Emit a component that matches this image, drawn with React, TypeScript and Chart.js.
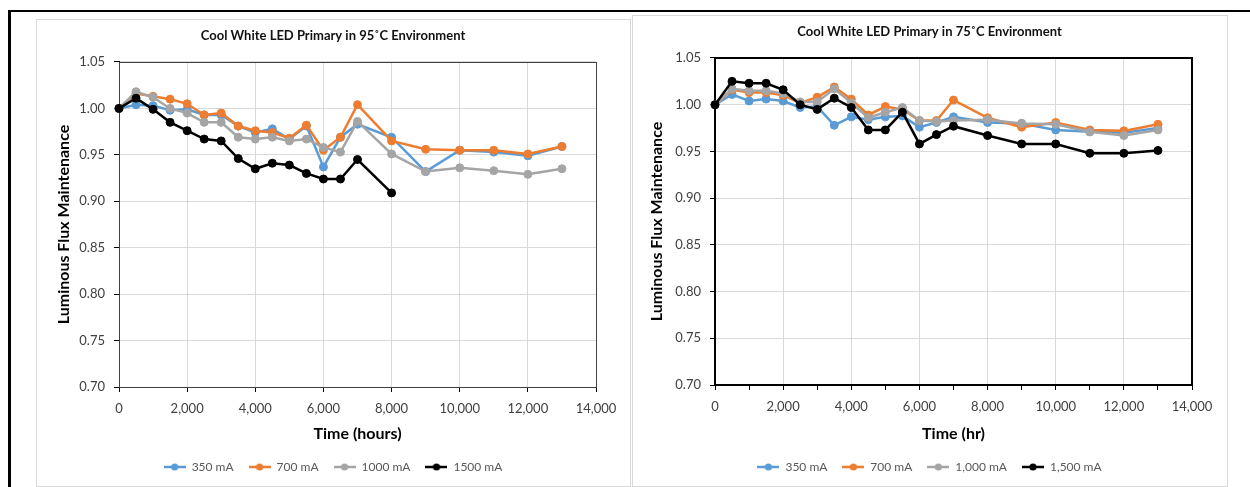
import { useEffect, useRef } from "react";
import { Chart, registerables } from "chart.js";

Chart.register(...registerables);

const FONT = "Lato, 'Liberation Sans', sans-serif";

// Test hours (shared sampling schedule)
const hours = [0, 500, 1000, 1500, 2000, 2500, 3000, 3500, 4000, 4500, 5000, 5500, 6000, 6500, 7000, 8000, 9000, 10000, 11000, 12000, 13000];
const hours1500At95 = [0, 500, 1000, 1500, 2000, 2500, 3000, 3500, 4000, 4500, 5000, 5500, 6000, 6500, 7000, 8000];

// 95 °C environment – luminous flux maintenance
const ma350At95 = [1.0, 1.004, 1.003, 0.998, 0.999, 0.993, 0.993, 0.981, 0.974, 0.978, 0.967, 0.981, 0.937, 0.969, 0.983, 0.969, 0.932, 0.955, 0.953, 0.949, 0.959];
const ma700At95 = [1.0, 1.016, 1.013, 1.01, 1.005, 0.993, 0.995, 0.981, 0.976, 0.974, 0.968, 0.982, 0.955, 0.969, 1.004, 0.965, 0.956, 0.955, 0.955, 0.951, 0.959];
const ma1000At95 = [1.0, 1.018, 1.012, 1.0, 0.995, 0.985, 0.985, 0.969, 0.967, 0.969, 0.965, 0.967, 0.958, 0.953, 0.986, 0.951, 0.932, 0.936, 0.933, 0.929, 0.935];
const ma1500At95 = [1.0, 1.011, 0.999, 0.985, 0.976, 0.967, 0.965, 0.946, 0.935, 0.941, 0.939, 0.93, 0.924, 0.924, 0.945, 0.909];

// 75 °C environment – luminous flux maintenance
const ma350At75 = [1.0, 1.011, 1.004, 1.006, 1.004, 0.997, 0.998, 0.978, 0.987, 0.984, 0.987, 0.988, 0.976, 0.981, 0.987, 0.981, 0.98, 0.973, 0.971, 0.97, 0.975];
const ma700At75 = [1.0, 1.016, 1.013, 1.013, 1.01, 1.002, 1.008, 1.019, 1.006, 0.989, 0.998, 0.995, 0.983, 0.983, 1.005, 0.986, 0.976, 0.981, 0.973, 0.972, 0.979];
const ma1000At75 = [1.0, 1.017, 1.015, 1.015, 1.012, 1.003, 1.003, 1.017, 1.002, 0.986, 0.992, 0.997, 0.983, 0.982, 0.983, 0.984, 0.98, 0.979, 0.971, 0.967, 0.973];
const ma1500At75 = [1.0, 1.025, 1.023, 1.023, 1.016, 1.0, 0.995, 1.007, 0.997, 0.973, 0.973, 0.992, 0.958, 0.968, 0.977, 0.967, 0.958, 0.958, 0.948, 0.948, 0.951];

const labels95 = ["350 mA", "700 mA", "1000 mA", "1500 mA"];
const labels75 = ["350 mA", "700 mA", "1,000 mA", "1,500 mA"];

const yTicks = { min: 0.7, max: 1.05, step: 0.05 };
const xTicks = { min: 0, max: 14000, labelStep: 2000 };

const COLORS = ["#5B9BD5", "#ED7D31", "#A5A5A5", "#000000"];

const zip = (xs: number[], ys: number[]) => ys.map((y, i) => ({ x: xs[i], y }));

// line-with-dot swatch used as the legend marker
const markerCache: Record<string, HTMLCanvasElement> = {};
function legendMarker(color: string) {
  if (markerCache[color]) return markerCache[color];
  const c = document.createElement("canvas");
  c.width = 22;
  c.height = 10;
  const g = c.getContext("2d")!;
  g.strokeStyle = color;
  g.lineWidth = 2.5;
  g.beginPath();
  g.moveTo(0, 5);
  g.lineTo(22, 5);
  g.stroke();
  g.fillStyle = color;
  g.beginPath();
  g.arc(11, 5, 3.6, 0, Math.PI * 2);
  g.fill();
  markerCache[color] = c;
  return c;
}

const plotFrame = {
  id: "plotFrame",
  beforeDatasetsDraw(chart: any, _args: any, opts: any) {
    const { ctx, chartArea: a } = chart;
    const off = opts.width % 2 === 1 ? 0.5 : 0;
    ctx.save();
    ctx.strokeStyle = opts.color;
    ctx.lineWidth = opts.width;
    ctx.strokeRect(Math.round(a.left) + off, Math.round(a.top) + off, Math.round(a.right - a.left), Math.round(a.bottom - a.top));
    ctx.restore();
  },
};

interface PanelSpec {
  title: string;
  xTitle: string;
  names: string[];
  series: { x: number[]; y: number[] }[];
  width: number;
  height: number;
  plotBottom: number;
  xMinorStep: number;
  frameColor: string;
  frameWidth: number;
  yTitlePad: number;
}

function buildConfig(p: PanelSpec): any {
  const plotTop = 43;
  const plotLeft = 83;
  const plotRight = 560;
  const padBottom = 4;
  const legendFont = 12;
  const legendPad = 15;
  const legendH = legendFont + legendPad + 10;
  const xAxisH = p.height - padBottom - legendH - p.plotBottom;
  const titleSize = 13;
  const titleLine = titleSize * 1.2;

  const datasets = p.series.map((s, i) => ({
    label: p.names[i],
    data: zip(s.x, s.y),
    borderColor: COLORS[i],
    backgroundColor: COLORS[i],
    pointBackgroundColor: COLORS[i],
    pointBorderColor: COLORS[i],
    pointRadius: 4,
    pointBorderWidth: 1,
    borderWidth: 2.5,
    tension: 0,
    clip: false,
    order: p.series.length - 1 - i,
  }));

  return {
    type: "line",
    data: { datasets },
    plugins: [plotFrame],
    options: {
      responsive: false,
      animation: false,
      events: [],
      layout: { padding: { top: 0, left: 0, right: 0, bottom: padBottom } },
      plugins: {
        tooltip: { enabled: false },
        plotFrame: { color: p.frameColor, width: p.frameWidth },
        title: {
          display: true,
          text: p.title,
          color: "#111",
          font: { family: FONT, size: titleSize, weight: "bold", lineHeight: 1.2 },
          padding: { top: 17 - titleLine / 2, bottom: plotTop - (17 - titleLine / 2) - titleLine },
        },
        legend: {
          position: "bottom",
          labels: {
            usePointStyle: true,
            pointStyleWidth: 22,
            padding: legendPad,
            color: "#595959",
            font: { family: FONT, size: legendFont },
            generateLabels: (chart: any) =>
              chart.data.datasets.map((ds: any, i: number) => ({
                text: ds.label,
                fillStyle: ds.borderColor,
                strokeStyle: ds.borderColor,
                lineWidth: 0,
                pointStyle: legendMarker(ds.borderColor),
                hidden: false,
                datasetIndex: i,
                fontColor: "#595959",
              })),
          },
        },
      },
      scales: {
        x: {
          type: "linear",
          min: xTicks.min,
          max: xTicks.max,
          afterFit: (s: any) => {
            s.height = xAxisH;
          },
          ticks: {
            stepSize: p.xMinorStep,
            autoSkip: false,
            maxRotation: 0,
            padding: 9,
            color: "#404040",
            font: { family: FONT, size: 13 },
            callback: (v: number) => (v % xTicks.labelStep === 0 ? v.toLocaleString("en-US") : ""),
          },
          grid: {
            color: (c: any) => (c.tick && c.tick.value % xTicks.labelStep === 0 ? "#d9d9d9" : "rgba(0,0,0,0)"),
            tickColor: "#000",
            tickLength: 5,
            lineWidth: 1,
          },
          border: { color: "#000", width: p.frameWidth },
          title: {
            display: true,
            text: p.xTitle,
            color: "#000",
            font: { family: FONT, size: 16, weight: "bold", lineHeight: 1.2 },
            padding: { top: 0, bottom: 3 },
          },
        },
        y: {
          min: yTicks.min,
          max: yTicks.max,
          afterFit: (s: any) => {
            s.width = plotLeft;
          },
          ticks: {
            stepSize: yTicks.step,
            padding: 9,
            color: "#404040",
            font: { family: FONT, size: 13 },
            callback: (v: number) => Number(v).toFixed(2),
          },
          grid: { color: "#d9d9d9", tickColor: "#000", tickLength: 5, lineWidth: 1 },
          border: { color: "#000", width: p.frameWidth },
          title: {
            display: true,
            text: "Luminous Flux Maintenance",
            color: "#000",
            font: { family: FONT, size: 16, weight: "bold", lineHeight: 1.2 },
            padding: { top: p.yTitlePad, bottom: 0 },
          },
        },
        // empty right-hand margin so the title and legend stay centred on the panel
        margin: {
          type: "linear",
          position: "right",
          display: true,
          afterFit: (s: any) => {
            s.width = p.width - plotRight;
          },
          ticks: { display: false },
          grid: { display: false, drawTicks: false },
          border: { display: false },
        },
      },
    },
  };
}

function ChartCanvas({ left, top, spec }: { left: number; top: number; spec: PanelSpec }) {
  const ref = useRef<HTMLCanvasElement>(null);
  useEffect(() => {
    const chart = new Chart(ref.current!, buildConfig(spec));
    return () => chart.destroy();
  }, []);
  return (
    <canvas
      ref={ref}
      width={spec.width}
      height={spec.height}
      style={{ position: "absolute", left, top, width: spec.width, height: spec.height }}
    />
  );
}

const spec95: PanelSpec = {
  title: "Cool White LED Primary in 95˚C Environment",
  xTitle: "Time (hours)",
  names: labels95,
  series: [
    { x: hours, y: ma350At95 },
    { x: hours, y: ma700At95 },
    { x: hours, y: ma1000At95 },
    { x: hours1500At95, y: ma1500At95 },
  ],
  width: 594,
  height: 468,
  plotBottom: 368,
  xMinorStep: 2000,
  frameColor: "#404040",
  frameWidth: 1,
  yTitlePad: 18,
};

const spec75: PanelSpec = {
  title: "Cool White LED Primary in 75˚C Environment",
  xTitle: "Time (hr)",
  names: labels75,
  series: [
    { x: hours, y: ma350At75 },
    { x: hours, y: ma700At75 },
    { x: hours, y: ma1000At75 },
    { x: hours, y: ma1500At75 },
  ],
  width: 595,
  height: 472,
  plotBottom: 370,
  xMinorStep: 1000,
  frameColor: "#000",
  frameWidth: 2,
  yTitlePad: 15,
};

export default function App() {
  const panelBorder = "1px solid #d9d9d9";
  return (
    <div style={{ position: "fixed", left: 0, top: 0, width: 1250, height: 487, background: "#fff", overflow: "hidden" }}>
      <div
        style={{
          position: "absolute",
          left: 8,
          top: 10,
          width: 1260,
          height: 500,
          borderLeft: "3px solid #000",
          borderTop: "2px solid #000",
        }}
      />
      <ChartCanvas left={36} top={19} spec={spec95} />
      <ChartCanvas left={632} top={15} spec={spec75} />
      <div style={{ position: "absolute", left: 36, top: 19, width: 593, height: 466, border: panelBorder, pointerEvents: "none" }} />
      <div style={{ position: "absolute", left: 632, top: 15, width: 594, height: 470, border: panelBorder, pointerEvents: "none" }} />
    </div>
  );
}
